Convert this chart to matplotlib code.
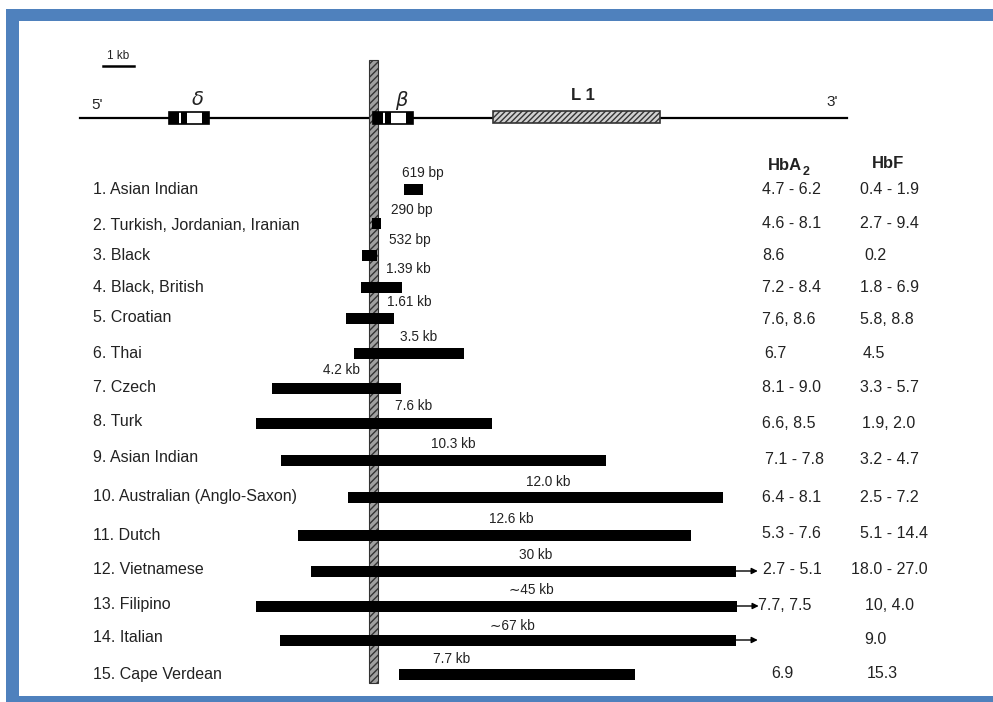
import matplotlib.pyplot as plt
from matplotlib.patches import Rectangle

plt.rcParams["font.family"] = ["Liberation Sans", "DejaVu Sans"]

# deletions, coordinates in kb relative to the beta gene (5' end ~ 0)
names = [
    "1. Asian Indian", "2. Turkish, Jordanian, Iranian", "3. Black",
    "4. Black, British", "5. Croatian", "6. Thai", "7. Czech", "8. Turk",
    "9. Asian Indian", "10. Australian (Anglo-Saxon)", "11. Dutch",
    "12. Vietnamese", "13. Filipino", "14. Italian", "15. Cape Verdean",
]
sizes = [
    "619 bp", "290 bp", "532 bp", "1.39 kb", "1.61 kb", "3.5 kb", "4.2 kb",
    "7.6 kb", "10.3 kb", "12.0 kb", "12.6 kb", "30 kb", "\u223c45 kb",
    "\u223c67 kb", "7.7 kb",
]
del_start = [0.96, -0.06, -0.38, -0.42, -0.90, -0.64, -3.27, -3.78, -2.98,
             -0.83, -2.44, -2.02, -3.78, -3.01, 0.80]
del_end = [1.57, 0.23, 0.10, 0.90, 0.65, 2.88, 0.87, 3.78, 7.44,
           11.19, 10.16, 11.60, 11.63, 11.60, 8.37]
extends = [False] * 11 + [True, True, True, False]
hba2 = ["4.7 - 6.2", "4.6 - 8.1", "8.6", "7.2 - 8.4", "7.6, 8.6", "6.7",
        "8.1 - 9.0", "6.6, 8.5", "7.1 - 7.8", "6.4 - 8.1", "5.3 - 7.6",
        "2.7 - 5.1", "7.7, 7.5", "", "6.9"]
hbf = ["0.4 - 1.9", "2.7 - 9.4", "0.2", "1.8 - 6.9", "5.8, 8.8", "4.5",
       "3.3 - 5.7", "1.9, 2.0", "3.2 - 4.7", "2.5 - 7.2", "5.1 - 14.4",
       "18.0 - 27.0", "10, 4.0", "9.0", "15.3"]

# layout (pixels from top for rows, kb for map features)
row_y = [189, 223, 255, 287, 318, 353, 388, 423, 460, 497, 535, 571, 606, 640, 674]
label_y = [189, 225, 256, 287, 318, 353, 387, 422, 457, 496, 535, 570, 605, 638, 674]
value_y = [189, 224, 256, 287, 319, 353, 388, 423, 459, 497, 534, 570, 605, 640, 674]
size_x = [1.58, 1.22, 1.16, 1.10, 1.13, 1.42, -1.04, 1.28, 2.54, 5.6, 4.4,
          5.19, 5.03, 4.45, 2.5]
size_dy = [-16, -13, -15, -18, -16, -16, -18, -17, -16, -15, -16, -16, -16, -14, -15]
a2_dx = [0, 0, 0, 0, 0, 2, 0, 0, 3, 0, 0, 1, -4, 0, 9]
f_dx = [0, 0, 4, 0, 0, 3, 0, 2, 0, 0, 0, -9, 5, 4, 7]
px_per_kb = 31.2
x0_px = 374
col_label, col_a2, col_f = 93, 762, 860
txt = "#222222"

fig = plt.figure(figsize=(9.93, 7.02), dpi=100)
ax = fig.add_axes([0, 0, 1, 1])
ax.set_xlim(-x0_px / px_per_kb, (993 - x0_px) / px_per_kb)
ax.set_ylim(702, 0)
ax.axis("off")


def px(x):
    return (x - x0_px) / px_per_kb


# blue frame
blue = "#4F81BD"
for (x, y, w, h) in [(6, 9, 987, 12), (6, 9, 13, 693), (6, 696, 987, 6)]:
    fig.add_artist(Rectangle((x / 993, 1 - (y + h) / 702), w / 993, h / 702,
                             transform=fig.transFigure, color=blue, lw=0))

# scale bar
ax.plot([px(103), px(103) + 1.0], [66, 66], color="black", lw=1.8)
ax.text(px(118), 62, "1 kb", ha="center", va="bottom", fontsize=8.5,
        color=txt)

# locus line
ax.plot([px(80), px(847)], [118, 118], color="black", lw=1.6, zorder=1)
ax.text(px(97), 105, "5'", ha="center", va="center", fontsize=11, color=txt)
ax.text(px(832), 102, "3'", ha="center", va="center", fontsize=11, color=txt)

# vertical hatched bar through the beta gene
ax.add_patch(Rectangle((px(369), 60), px(378) - px(369), 623,
                       facecolor="#a0a0a0", edgecolor="#333333", hatch="/////",
                       lw=0.8, zorder=2))


def gene(start, label):
    w = 40 / px_per_kb
    ax.add_patch(Rectangle((start, 112), w, 12, facecolor="white",
                           edgecolor="black", lw=1.2, zorder=3))
    for a, b in [(0, 10), (12, 18), (33, 40)]:
        ax.add_patch(Rectangle((start + a / px_per_kb, 112), (b - a) / px_per_kb,
                               12, facecolor="black", lw=0, zorder=4))
    ax.text(start + 29 / px_per_kb, 100, label, ha="center", va="center",
            fontsize=14, color=txt)


gene(px(169), r"$\delta$")
gene(px(373), r"$\beta$")

ax.add_patch(Rectangle((px(493), 111), px(660) - px(493), 12,
                       facecolor="#d0d0d0", edgecolor="#333333", hatch="//////",
                       lw=1.2, zorder=3))
ax.text(px(583), 95, "L 1", ha="center", va="center", fontsize=12,
        fontweight="bold", color=txt)

# column headers
ax.text(px(768), 165, "HbA", ha="left", va="center", fontsize=12,
        fontweight="bold", color=txt)
ax.text(px(803), 172, "2", ha="left", va="center", fontsize=9,
        fontweight="bold", color=txt)
ax.text(px(872), 163, "HbF", ha="left", va="center", fontsize=12,
        fontweight="bold", color=txt)

for i, y in enumerate(row_y):
    ax.text(px(col_label), label_y[i], names[i], ha="left", va="center",
            fontsize=11.5, color=txt)
    ax.add_patch(Rectangle((del_start[i], y - 5.5), del_end[i] - del_start[i],
                           11, facecolor="black", edgecolor="none", zorder=5))
    ax.text(size_x[i], y + size_dy[i], sizes[i], ha="center", va="center",
            fontsize=9.8, color=txt)
    if extends[i]:
        ax.annotate("", xy=(del_end[i] + 0.7, y), xytext=(del_end[i], y),
                    arrowprops=dict(arrowstyle="-|>", color="black", lw=1,
                                    mutation_scale=9, shrinkA=0, shrinkB=0))
    ax.text(px(col_a2 + a2_dx[i]), value_y[i], hba2[i], ha="left",
            va="center", fontsize=11.5, color=txt)
    ax.text(px(col_f + f_dx[i]), value_y[i], hbf[i], ha="left",
            va="center", fontsize=11.5, color=txt)

fig.savefig("out.png", dpi=100)
